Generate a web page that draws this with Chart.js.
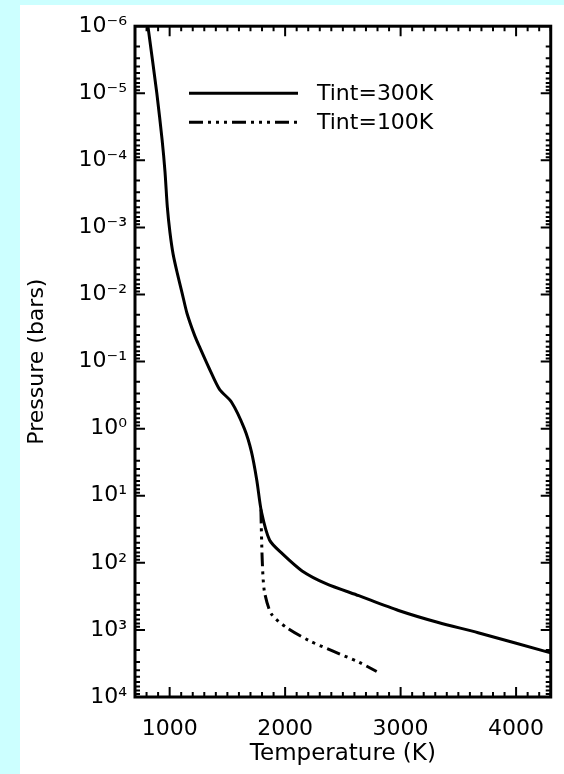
<!DOCTYPE html>
<html>
<head>
<meta charset="utf-8">
<script src="https://cdn.jsdelivr.net/npm/chart.js@4/dist/chart.umd.min.js"></script>
<style>
  html, body { margin: 0; padding: 0; background: #ccffff; }
  #panel { position: absolute; left: 20px; top: 5px; width: 544px; height: 769px; background: #fff; }
</style>
</head>
<body>
<div id="panel"><canvas id="profile"></canvas></div>
<script>
// T-P profiles
const seriesLabels = ['Tint=300K', 'Tint=100K'];

const temps300 = [812, 889, 935, 960, 980, 1003, 1030, 1066, 1108, 1150, 1217, 1262, 1346, 1432, 1535, 1647, 1708, 1755, 1794, 1866, 1975, 2147, 2354, 2638, 2982, 3327, 3671, 4300];
const press300 = [1e-6, 1e-5, 5e-5, 1.5e-4, 5e-4, 1.2e-3, 2.5e-3, 4.8e-3, 9.5e-3, 1.9e-2, 4.1e-2, 6.2e-2, 0.13, 0.26, 0.40, 1.0, 2.2, 5.9, 17, 46, 73, 132, 204, 309, 513, 776, 1100, 2200];

const temps100 = [1790, 1802, 1820, 1880, 2009, 2207, 2405, 2638, 2793];
const press100 = [16, 93, 263, 575, 912, 1445, 2040, 3020, 4170];

const xTicks = [1000, 2000, 3000, 4000];
const xTickLabels = ['1000', '2000', '3000', '4000'];
const yTicks = [1e-6, 1e-5, 1e-4, 1e-3, 1e-2, 1e-1, 1, 10, 100, 1000, 10000];
const yTickLabels = ['10⁻⁶', '10⁻⁵', '10⁻⁴', '10⁻³', '10⁻²', '10⁻¹', '10⁰', '10¹', '10²', '10³', '10⁴'];

const toPoints = (xs, ys) => xs.map((x, i) => ({ x: x, y: ys[i] }));

Chart.defaults.font.family = 'DejaVu Sans';
Chart.defaults.font.size = 22;
Chart.defaults.color = '#000';

// box + inward ticks on all four sides, IDL style
const frameTicks = {
  id: 'frameTicks',
  afterDraw(chart) {
    const { ctx, chartArea: a, scales } = chart;
    const xs = scales.x, ys = scales.y;
    ctx.save();
    ctx.strokeStyle = '#000';
    ctx.lineWidth = 2;
    ctx.beginPath();
    for (let t = 700; t <= 4300; t += 100) {
      const px = xs.getPixelForValue(t);
      const len = t % 1000 === 0 ? 10 : 5;
      ctx.moveTo(px, a.bottom); ctx.lineTo(px, a.bottom - len);
      ctx.moveTo(px, a.top); ctx.lineTo(px, a.top + len);
    }
    for (let e = -6; e <= 3; e++) {
      for (let k = 1; k <= 9; k++) {
        const py = ys.getPixelForValue(k * Math.pow(10, e));
        const len = k === 1 ? 10 : 5;
        ctx.moveTo(a.left, py); ctx.lineTo(a.left + len, py);
        ctx.moveTo(a.right, py); ctx.lineTo(a.right - len, py);
      }
    }
    ctx.stroke();
    ctx.lineWidth = 3;
    ctx.strokeRect(a.left, a.top, a.right - a.left, a.bottom - a.top);
    ctx.restore();
  }
};

// legend drawn inside the plot box
const innerLegend = {
  id: 'innerLegend',
  afterDraw(chart) {
    const { ctx, chartArea: a } = chart;
    ctx.save();
    ctx.font = '22px "DejaVu Sans"';
    ctx.fillStyle = '#000';
    ctx.textBaseline = 'middle';
    chart.data.datasets.forEach((ds, i) => {
      const y = a.top + 67 + i * 29;
      ctx.strokeStyle = ds.borderColor;
      ctx.lineWidth = ds.borderWidth;
      ctx.setLineDash(ds.borderDash || []);
      ctx.beginPath();
      ctx.moveTo(a.left + 54, y);
      ctx.lineTo(a.left + 163, y);
      ctx.stroke();
      ctx.fillText(ds.label, a.left + 182, y + 1);
    });
    ctx.restore();
  }
};

new Chart(document.getElementById('profile'), {
  type: 'line',
  data: {
    datasets: [{
      label: seriesLabels[0],
      data: toPoints(temps300, press300),
      borderColor: '#000',
      borderWidth: 3,
      pointRadius: 0,
      tension: 0.25
    }, {
      label: seriesLabels[1],
      data: toPoints(temps100, press100),
      borderColor: '#000',
      borderWidth: 3,
      borderDash: [14, 5, 3, 5, 3, 5, 3, 5],
      pointRadius: 0,
      tension: 0.25
    }]
  },
  options: {
    responsive: true,
    maintainAspectRatio: false,
    animation: false,
    layout: { padding: { top: 16, right: 11 } },
    plugins: { legend: { display: false }, tooltip: { enabled: false } },
    scales: {
      x: {
        type: 'linear',
        min: 700,
        max: 4300,
        afterBuildTicks: s => { s.ticks = xTicks.map(v => ({ value: v })); },
        afterFit: s => { s.height = 77; },
        ticks: {
          padding: 19,
          maxRotation: 0,
          autoSkip: false,
          callback: (v, i) => xTickLabels[i]
        },
        grid: { display: false, drawTicks: false },
        border: { display: false },
        title: { display: true, text: 'Temperature (K)', font: { size: 23 }, padding: { top: 4, bottom: 6 } }
      },
      y: {
        type: 'logarithmic',
        reverse: true,
        min: 1e-6,
        max: 1e4,
        afterBuildTicks: s => { s.ticks = yTicks.map(v => ({ value: v })); },
        afterFit: s => { s.width = 115; },
        ticks: {
          padding: 8,
          autoSkip: false,
          callback: (v, i) => yTickLabels[i]
        },
        grid: { display: false, drawTicks: false },
        border: { display: false },
        title: { display: true, text: 'Pressure (bars)', padding: { top: 4, bottom: 4 } }
      }
    }
  },
  plugins: [frameTicks, innerLegend]
});
</script>
</body>
</html>
